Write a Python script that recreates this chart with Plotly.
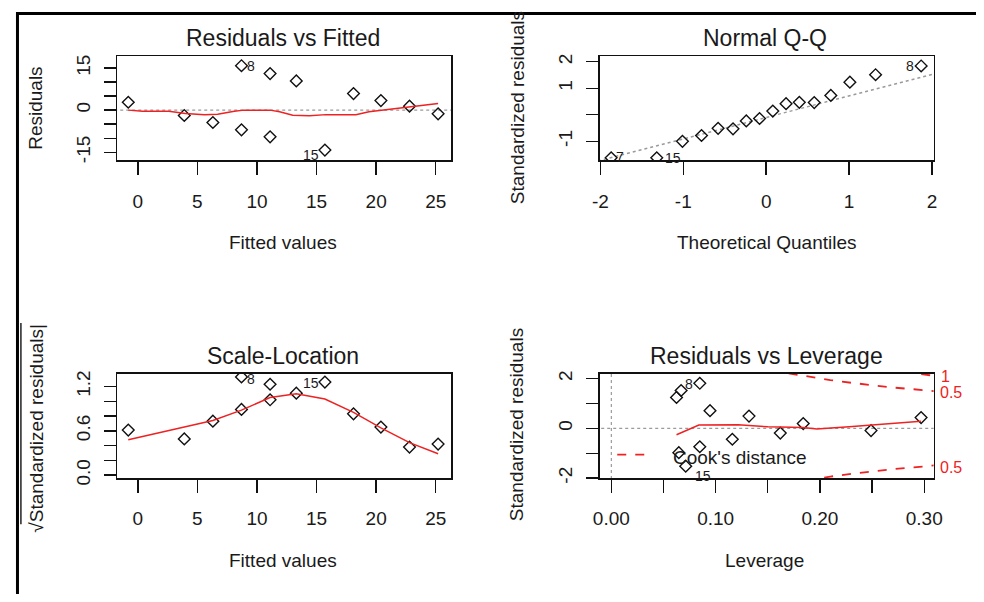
import plotly.graph_objects as go

# page is 984 x 602; default body margin of 8px is kept, so the figure is 968 x 586
PAGE_W, PAGE_H = 984, 602
OFF = 8
W, H = PAGE_W - 2 * OFF, PAGE_H - 2 * OFF

# ---------------- data ----------------
fitted = [-0.8, 3.9, 6.3, 8.7, 8.7, 11.1, 11.1, 13.3, 15.7, 18.1, 20.4, 22.8, 25.2]
residuals = [2.8, -1.9, -4.4, 15.8, -7.0, 13.0, -9.5, 10.4, -14.2, 5.9, 3.4, 1.4, -1.3]
rf_smooth_x = [-0.8, 0.4, 2.6, 4.0, 5.6, 6.7, 8.1, 8.9, 11.1, 11.9, 13.0, 14.4, 15.8, 18.3, 19.4, 20.5, 21.6, 22.8, 23.8, 25.2]
rf_smooth_y = [0.0, -0.4, -0.4, -1.2, -1.6, -1.5, -0.4, 0.0, 0.0, -0.6, -1.8, -2.0, -1.6, -1.6, -0.6, 0.0, 0.6, 1.2, 1.8, 2.4]

theoretical_q = [-1.87, -1.32, -1.01, -0.78, -0.58, -0.40, -0.24, -0.08, 0.08, 0.24, 0.40, 0.58, 0.78, 1.01, 1.32, 1.87]
std_resid_sorted = [-1.62, -1.62, -1.00, -0.78, -0.51, -0.53, -0.23, -0.14, 0.14, 0.42, 0.47, 0.46, 0.73, 1.23, 1.51, 1.84]
qq_line_x = [-2.1, 2.1]
qq_line_y = [-1.80, 1.60]

sqrt_abs_std = [0.61, 0.49, 0.73, 1.33, 0.89, 1.23, 1.02, 1.11, 1.26, 0.83, 0.65, 0.38, 0.42]
sl_smooth_x = [-0.8, 3.9, 6.3, 8.7, 11.1, 13.3, 15.7, 18.1, 20.4, 22.8, 25.2]
sl_smooth_y = [0.48, 0.65, 0.74, 0.88, 1.05, 1.10, 1.03, 0.85, 0.64, 0.44, 0.29]

leverage = [0.0625, 0.0669, 0.0848, 0.0946, 0.132, 0.184, 0.297, 0.249, 0.162, 0.116, 0.0848, 0.0647, 0.0713]
lev_std_resid = [1.24, 1.52, 1.81, 0.71, 0.49, 0.19, 0.43, -0.09, -0.19, -0.44, -0.74, -0.98, -1.52]
lev_smooth_x = [0.0625, 0.0839, 0.1216, 0.150, 0.184, 0.197, 0.228, 0.260, 0.297]
lev_smooth_y = [-0.26, 0.13, 0.14, 0.06, 0.03, -0.03, 0.06, 0.17, 0.28]

cook_h = [0.17, 0.19, 0.21, 0.23, 0.25, 0.27, 0.29, 0.31]
cook05_upper = [2.21, 2.07, 1.94, 1.83, 1.73, 1.64, 1.57, 1.49]
cook05_lower = [-2.21, -2.07, -1.94, -1.83, -1.73, -1.64, -1.57, -1.49]
cook1_h = [0.28, 0.29, 0.30, 0.31]
cook1_upper = [2.27, 2.21, 2.16, 2.11]

titles = ["Residuals vs Fitted", "Normal Q-Q", "Scale-Location", "Residuals vs Leverage"]

# tick labels
p1_xt = [0, 5, 10, 15, 20, 25]
p1_xl = ["0", "5", "10", "15", "20", "25"]
p1_yt = [-15, -10, -5, 0, 5, 10, 15]
p1_yl = ["-15", "", "", "0", "", "", "15"]
p2_xt = [-2, -1, 0, 1, 2]
p2_xl = ["-2", "-1", "0", "1", "2"]
p2_yt = [-1, 0, 1, 2]
p2_yl = ["-1", "", "1", "2"]
p3_yt = [0, 0.2, 0.4, 0.6, 0.8, 1.0, 1.2]
p3_yl = ["0.0", "", "", "0.6", "", "", "1.2"]
p4_xt = [0, 0.05, 0.10, 0.15, 0.20, 0.25, 0.30]
p4_xl = ["0.00", "", "0.10", "", "0.20", "", "0.30"]
p4_yt = [-2, -1, 0, 1, 2]
p4_yl = ["-2", "", "0", "", "2"]

# ---------------- styling ----------------
FONT = "Liberation Sans, Arial, sans-serif"
TXT = "#1a1a1a"
RED = "#ee2222"
GREY = "#9a9a9a"


def fx(p):
    return (p - OFF) / W


def fy(p):
    return 1 - (p - OFF) / H


fig = go.Figure()

mk = dict(symbol="diamond-open", size=9, color="#111111", line=dict(width=1.4, color="#111111"))

# Panel 1
fig.add_trace(go.Scatter(x=[-5, 30], y=[0, 0], mode="lines", line=dict(color=GREY, width=1.2, dash="dot"), xaxis="x", yaxis="y"))
fig.add_trace(go.Scatter(x=fitted, y=residuals, mode="markers", marker=mk, xaxis="x", yaxis="y"))
fig.add_trace(go.Scatter(x=rf_smooth_x, y=rf_smooth_y, mode="lines", line=dict(color=RED, width=1.5), xaxis="x", yaxis="y"))

# Panel 2
fig.add_trace(go.Scatter(x=qq_line_x, y=qq_line_y, mode="lines", line=dict(color=GREY, width=1.5, dash="dot"), xaxis="x2", yaxis="y2"))
fig.add_trace(go.Scatter(x=theoretical_q, y=std_resid_sorted, mode="markers", marker=mk, xaxis="x2", yaxis="y2"))

# Panel 3
fig.add_trace(go.Scatter(x=fitted, y=sqrt_abs_std, mode="markers", marker=mk, xaxis="x3", yaxis="y3"))
fig.add_trace(go.Scatter(x=sl_smooth_x, y=sl_smooth_y, mode="lines", line=dict(color=RED, width=1.5), xaxis="x3", yaxis="y3"))

# Panel 4
fig.add_trace(go.Scatter(x=[-0.05, 0.4], y=[0, 0], mode="lines", line=dict(color=GREY, width=1.2, dash="dot"), xaxis="x4", yaxis="y4"))
fig.add_trace(go.Scatter(x=[0, 0], y=[-3, 3], mode="lines", line=dict(color=GREY, width=1.2, dash="dot"), xaxis="x4", yaxis="y4"))
fig.add_trace(go.Scatter(x=leverage, y=lev_std_resid, mode="markers", marker=mk, xaxis="x4", yaxis="y4"))
fig.add_trace(go.Scatter(x=lev_smooth_x, y=lev_smooth_y, mode="lines", line=dict(color=RED, width=1.5), xaxis="x4", yaxis="y4"))
for cy in (cook05_upper, cook05_lower):
    fig.add_trace(go.Scatter(x=cook_h, y=cy, mode="lines", line=dict(color=RED, width=1.8, dash="dash"), xaxis="x4", yaxis="y4"))
fig.add_trace(go.Scatter(x=cook1_h, y=cook1_upper, mode="lines", line=dict(color=RED, width=1.8, dash="dash"), xaxis="x4", yaxis="y4"))

boxes = {
    1: (111, 451, 53, 159),
    2: (602, 942, 53, 159),
    3: (111, 451, 377, 483),
    4: (602, 942, 377, 483),
}
ranges = {
    1: ([-1.73, 26.3], [-17.8, 19.2]),
    2: ([-2.01, 2.02], [-1.71, 2.21]),
    3: ([-1.73, 26.3], [-0.04, 1.368]),
    4: ([-0.0113, 0.309], [-2.0, 2.18]),
}
ticks = {
    1: (p1_xt, p1_xl, p1_yt, p1_yl),
    2: (p2_xt, p2_xl, p2_yt, p2_yl),
    3: (p1_xt, p1_xl, p3_yt, p3_yl),
    4: (p4_xt, p4_xl, p4_yt, p4_yl),
}

layout = dict(
    width=W, height=H, margin=dict(l=0, r=0, t=0, b=0),
    paper_bgcolor="white", plot_bgcolor="white", showlegend=False,
    font=dict(family=FONT, color=TXT, size=19),
)
for i in range(1, 5):
    x0, x1, y0, y1 = boxes[i]
    xr, yr = ranges[i]
    xt, xl, yt, yl = ticks[i]
    sfx = "" if i == 1 else str(i)
    common = dict(showline=True, mirror=True, linecolor="#111111", linewidth=1.6,
                  showgrid=False, zeroline=False, ticks="outside", tickcolor="#111111",
                  tickwidth=1.4, tickfont=dict(family=FONT, size=19, color=TXT), fixedrange=True)
    layout["xaxis" + sfx] = dict(domain=[fx(x0), fx(x1)], range=xr, tickmode="array", tickvals=xt, ticktext=xl,
                                 ticklen=13, ticklabelstandoff=10, anchor="y" + sfx, **common)
    layout["yaxis" + sfx] = dict(domain=[fy(y1), fy(y0)], range=yr, tickmode="array", tickvals=yt, ticktext=yl,
                                 ticklen=12, tickangle=-90, ticklabelstandoff=6, anchor="x" + sfx, **common)

fig.update_layout(**layout)

ann = []


def text(s, x, y, size=19, color=TXT, angle=0, xanchor="center"):
    ann.append(dict(text=s, x=fx(x), y=fy(y), xref="paper", yref="paper", showarrow=False,
                    font=dict(family=FONT, size=size, color=color), textangle=angle,
                    xanchor=xanchor, yanchor="middle"))


# titles
text(titles[0], 280, 35, size=23)
text(titles[1], 770, 35, size=23)
text(titles[2], 280, 359, size=23)
text(titles[3], 772, 359, size=23)
# axis titles
text("Fitted values", 280, 243)
text("Theoretical Quantiles", 772, 243)
text("Fitted values", 280, 567)
text("Leverage", 770, 567)
text("Residuals", 27, 106, angle=-90)
text("Standardized residuals", 518, 106, angle=-90)
text("√Standardized residuals|", 28, 432, angle=-90)
text("Standardized residuals", 517, 429, angle=-90)
# point id labels
text("8", 247, 63, size=14)
text("15", 308, 154, size=14)
text("7", 623, 156, size=14)
text("15", 677, 157, size=14)
text("8", 918, 63, size=14)
text("8", 247, 382, size=14)
text("15", 308, 386, size=14)
text("8", 693, 387, size=14)
text("15", 707, 481, size=14)
# Cook's labels
text("1", 948, 379, size=16, color=RED, xanchor="left")
text("0.5", 946, 396, size=16, color=RED, xanchor="left")
text("0.5", 946, 472, size=16, color=RED, xanchor="left")
# legend text
text("Cook's distance", 675, 462, xanchor="left")

shapes = [
    dict(type="line", xref="paper", yref="paper", x0=fx(9.5), x1=fx(9.5), y0=fy(8), y1=fy(610),
         line=dict(color="black", width=3)),
    dict(type="line", xref="paper", yref="paper", x0=fx(8), x1=fx(992), y0=fy(9.5), y1=fy(9.5),
         line=dict(color="black", width=3)),
    dict(type="line", xref="paper", yref="paper", x0=fx(13), x1=fx(13), y0=fy(325), y1=fy(530),
         line=dict(color="#222222", width=1.5)),
    dict(type="line", xref="paper", yref="paper", x0=fx(620), x1=fx(652), y0=fy(459), y1=fy(459),
         line=dict(color=RED, width=1.8, dash="dash")),
]
fig.update_layout(annotations=ann, shapes=shapes)

fig.write_html("out.html", config={"displayModeBar": False, "staticPlot": True})
